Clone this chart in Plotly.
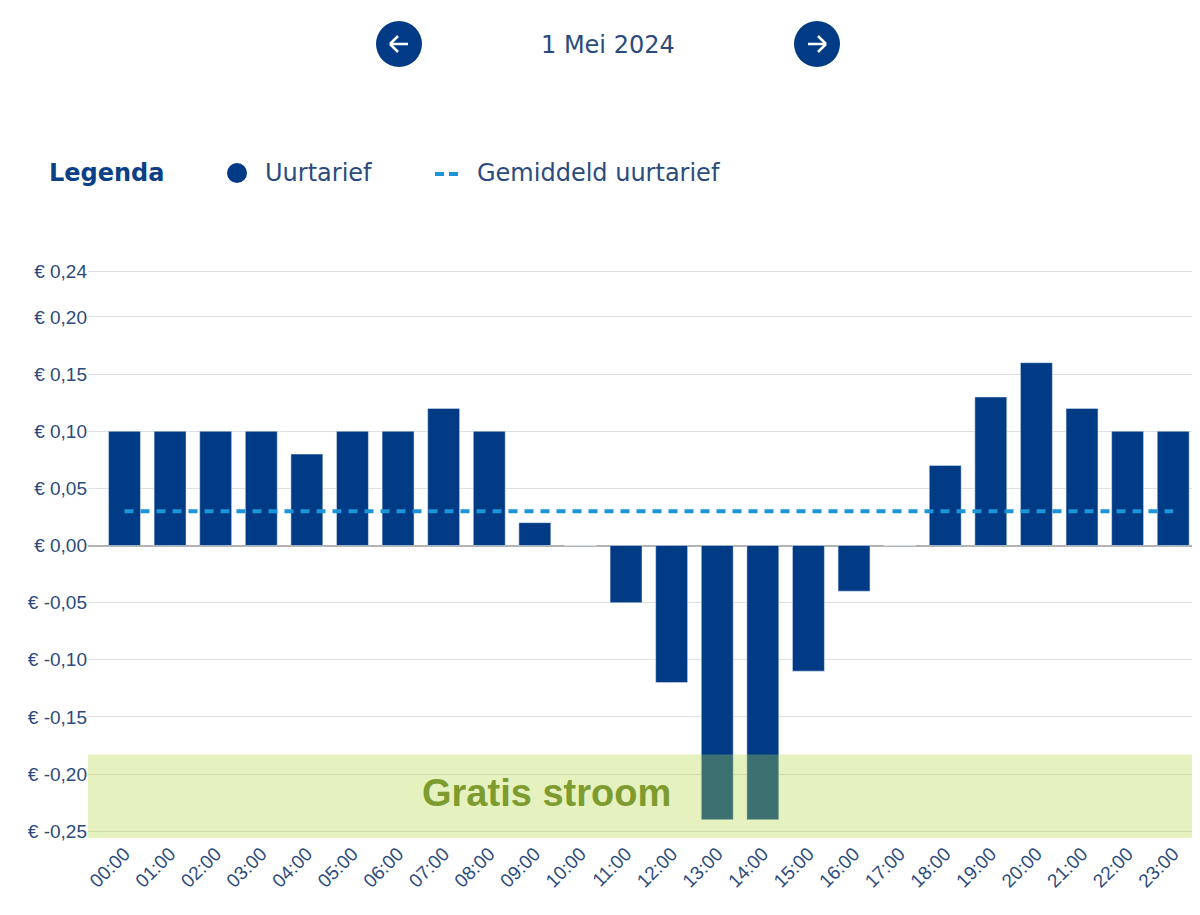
import plotly.graph_objects as go

hours = ["00:00", "01:00", "02:00", "03:00", "04:00", "05:00", "06:00", "07:00",
         "08:00", "09:00", "10:00", "11:00", "12:00", "13:00", "14:00", "15:00",
         "16:00", "17:00", "18:00", "19:00", "20:00", "21:00", "22:00", "23:00"]
uurtarief = [0.10, 0.10, 0.10, 0.10, 0.08, 0.10, 0.10, 0.12, 0.10, 0.02, 0.00, -0.05,
             -0.12, -0.24, -0.24, -0.11, -0.04, 0.00, 0.07, 0.13, 0.16, 0.12, 0.10, 0.10]
gemiddeld = 0.03
y_tickvals = [-0.25, -0.20, -0.15, -0.10, -0.05, 0.00, 0.05, 0.10, 0.15, 0.20, 0.24]
y_ticktext = ["€ -0,25", "€ -0,20", "€ -0,15", "€ -0,10", "€ -0,05", "€ 0,00",
              "€ 0,05", "€ 0,10", "€ 0,15", "€ 0,20", "€ 0,24"]
gratis_grens = -0.183
date_label = "1 Mei 2024"

BAR = "#013b86"
TXT = "#2b4b7c"
DASH = "#1b95d7"

OFF = 8  # page body margin
W, H = 1200 - OFF, 915 - OFF
L, R, T, B = 80, 4, 261, 77
YMIN, YMAX = -0.256, 0.242
pw, ph = W - L - R, H - T - B


def px(x):
    return (x - OFF - L) / pw


def py(y):
    return (H - B - (y - OFF)) / ph


fig = go.Figure()
fig.add_trace(go.Bar(x=hours, y=uurtarief, marker_color=BAR, width=0.7,
                     name="Uurtarief", showlegend=False))
fig.add_trace(go.Scatter(x=hours, y=[gemiddeld] * len(hours), mode="lines",
                         line=dict(color=DASH, width=4, dash="9px,7px"),
                         name="Gemiddeld uurtarief", showlegend=False))

shapes = []
# green band
shapes.append(dict(type="rect", xref="paper", yref="y", x0=0, x1=1,
                   y0=YMIN, y1=gratis_grens, fillcolor="rgba(179,217,70,0.34)",
                   line_width=0, layer="above"))

# nav circles + arrows
for cx, direction in [(399, -1), (817, 1)]:
    r = 23
    shapes.append(dict(type="circle", xref="paper", yref="paper",
                       x0=px(cx - r), x1=px(cx + r), y0=py(44 + r), y1=py(44 - r),
                       fillcolor=BAR, line_width=0))
    x_tail = cx - 9 * direction
    x_head = cx + 9 * direction
    shapes.append(dict(type="line", xref="paper", yref="paper",
                       x0=px(x_tail), x1=px(x_head), y0=py(44), y1=py(44),
                       line=dict(color="white", width=2.5)))
    for dy in (-8, 8):
        shapes.append(dict(type="line", xref="paper", yref="paper",
                           x0=px(x_head), x1=px(x_head - 8 * direction),
                           y0=py(44), y1=py(44 + dy),
                           line=dict(color="white", width=2.5)))

# legend dot and dashes
shapes.append(dict(type="circle", xref="paper", yref="paper",
                   x0=px(227), x1=px(247), y0=py(183), y1=py(163),
                   fillcolor=BAR, line_width=0))
for x0 in (435, 449):
    shapes.append(dict(type="line", xref="paper", yref="paper",
                       x0=px(x0), x1=px(x0 + 9), y0=py(174), y1=py(174),
                       line=dict(color=DASH, width=4)))

annotations = [
    dict(text=date_label, xref="paper", yref="paper", x=px(608), y=py(45),
         xanchor="center", yanchor="middle", showarrow=False,
         font=dict(family="DejaVu Sans", size=24, color=TXT)),
    dict(text="<b>Legenda</b>", xref="paper", yref="paper", x=px(47), y=py(173),
         xanchor="left", yanchor="middle", showarrow=False,
         font=dict(family="DejaVu Sans", size=24, color="#0b3f86")),
    dict(text="Uurtarief", xref="paper", yref="paper", x=px(263), y=py(173),
         xanchor="left", yanchor="middle", showarrow=False,
         font=dict(family="DejaVu Sans", size=24, color=TXT)),
    dict(text="Gemiddeld uurtarief", xref="paper", yref="paper", x=px(475), y=py(173),
         xanchor="left", yanchor="middle", showarrow=False,
         font=dict(family="DejaVu Sans", size=24, color=TXT)),
    dict(text="<b>Gratis stroom</b>", xref="paper", yref="paper", x=px(673), y=py(793),
         xanchor="right", yanchor="middle", showarrow=False,
         font=dict(family="Liberation Sans", size=38, color="#7e9b2f")),
]

fig.update_layout(
    width=W, height=H,
    margin=dict(l=L, r=R, t=T, b=B, pad=0),
    paper_bgcolor="white", plot_bgcolor="white",
    shapes=shapes, annotations=annotations,
    bargap=0.3, showlegend=False,
    xaxis=dict(range=[-0.8, 23.5], tickangle=-45, showgrid=False, ticks="",
               tickfont=dict(family="Liberation Sans", size=19, color=TXT),
               automargin=False, fixedrange=True),
    yaxis=dict(range=[YMIN, YMAX], tickvals=y_tickvals, ticktext=y_ticktext,
               showgrid=True, gridcolor="#e0e0e0", gridwidth=1,
               zeroline=True, zerolinecolor="#b3b3b3", zerolinewidth=1.5,
               ticks="", tickfont=dict(family="Liberation Sans", size=19, color=TXT),
               automargin=False, fixedrange=True),
)

fig.write_html("out.html", config={"displayModeBar": False})
